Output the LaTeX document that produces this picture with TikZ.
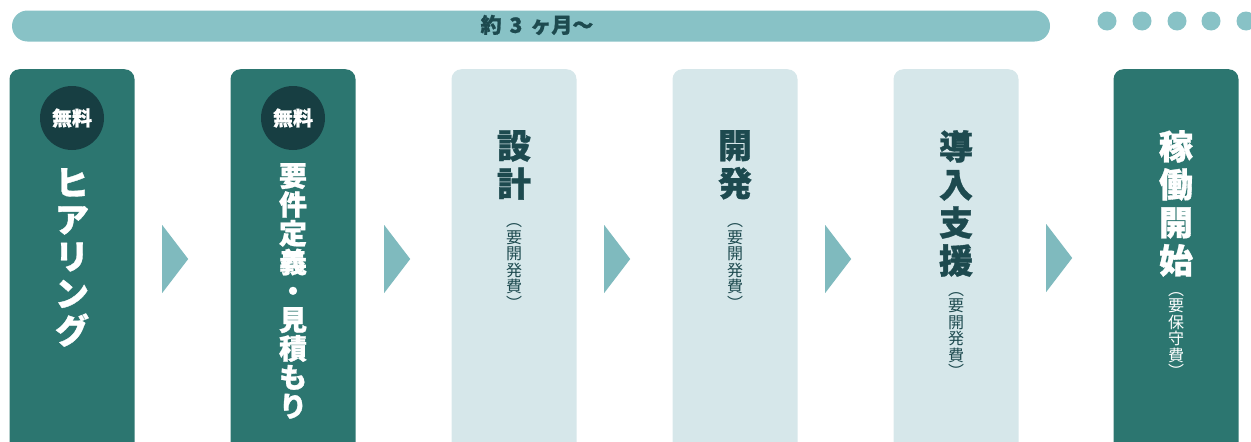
\documentclass[tikz,border=0pt]{standalone}
\usepackage{fontspec}
\newfontfamily\jp{Noto Sans CJK JP}[BoldFeatures={FakeBold=1}]
\usetikzlibrary{positioning,shapes.geometric}

\definecolor{barteal}{HTML}{88C2C6}
\definecolor{boxdark}{HTML}{2C7670}
\definecolor{boxlight}{HTML}{D6E7EA}
\definecolor{badgedark}{HTML}{173E42}
\definecolor{tri}{HTML}{7FBABE}
\definecolor{txtdark}{HTML}{1D4A4F}

\tikzset{
  darkbox/.style={fill=boxdark, rounded corners=10pt, minimum width=125pt, minimum height=400pt, anchor=north, inner sep=0pt},
  lightbox/.style={darkbox, fill=boxlight},
  badge/.style={circle, fill=badgedark, minimum size=64pt, inner sep=0pt, text=white, font=\jp\bfseries\fontsize{20}{20}\selectfont},
  stepmark/.style={isosceles triangle, isosceles triangle stretches, shape border rotate=0, fill=tri, minimum height=26pt, minimum width=68pt, inner sep=0pt, anchor=west},
  bigtxt/.style={anchor=north, align=center, inner sep=0pt, font=\jp\bfseries\fontsize{34}{38}\selectfont},
  subtxt/.style={anchor=north, align=center, inner sep=0pt, font=\jp\fontsize{16}{16.5}\selectfont},
  dot/.style={circle, fill=barteal, minimum size=19pt, inner sep=0pt}
}

\begin{document}
\begin{tikzpicture}[x=1pt,y=-1pt]
\useasboundingbox (0,0) rectangle (1251,442);
\clip (0,0) rectangle (1251,442);

%top bar
\node[fill=barteal, rounded corners=15.5pt, minimum width=1038pt, minimum height=31pt, inner sep=0pt] (span) at (531,26) {};
\node[text=txtdark, inner sep=0pt, font=\jp\bfseries\fontsize{21}{21}\selectfont] (spanl) at (537,25) {約\hspace{8pt}3\hspace{8pt}ヶ月〜};

\node[dot] (d1) at (1107,21) {};
\node[dot] (d2) at (1142,21) {};
\node[dot] (d3) at (1177,21) {};
\node[dot] (d4) at (1211,21) {};
\node[dot] (d5) at (1246,21) {};

%boxes
\node[darkbox] (hear) at (72,69) {};
\node[darkbox] (req) at (293,69) {};
\node[lightbox] (design) at (514,69) {};
\node[lightbox] (dev) at (735,69) {};
\node[lightbox] (intro) at (956,69) {};
\node[darkbox] (run) at (1176,69) {};

%arrows
\node[stepmark] (t1) at (162,259) {};
\node[stepmark] (t2) at (384,259) {};
\node[stepmark] (t3) at (604,259) {};
\node[stepmark] (t4) at (825,259) {};
\node[stepmark] (t5) at (1046,258) {};

%free
\node[badge] (free1) at (72,118) {無料};
\node[badge] (free2) at (293,118) {無料};

\node[bigtxt, text=white, font=\jp\bfseries\fontsize{34}{37}\selectfont, below=99pt of hear.north] (hearl) {ヒ\\ア\\リ\\ン\\グ};
\node[bigtxt, text=white, font=\jp\bfseries\fontsize{28}{28.8}\selectfont, below=94pt of req.north] (reql) {要\\件\\定\\義\\・\\見\\積\\も\\り};

\node[bigtxt, text=txtdark, below=61pt of design.north] (designl) {設\\計};
\node[subtxt, text=txtdark, below=24pt of designl.south] (designs) {︵\\要\\開\\発\\費\\︶};

\node[bigtxt, text=txtdark, below=61pt of dev.north] (devl) {開\\発};
\node[subtxt, text=txtdark, below=24pt of devl.south] (devs) {︵\\要\\開\\発\\費\\︶};

\node[bigtxt, text=txtdark, below=61pt of intro.north] (introl) {導\\入\\支\\援};
\node[subtxt, text=txtdark, below=15pt of introl.south] (intros) {︵\\要\\開\\発\\費\\︶};

\node[bigtxt, text=white, below=61pt of run.north] (runl) {稼\\働\\開\\始};
\node[subtxt, text=white, below=15pt of runl.south] (runs) {︵\\要\\保\\守\\費\\︶};

\end{tikzpicture}
\end{document}
